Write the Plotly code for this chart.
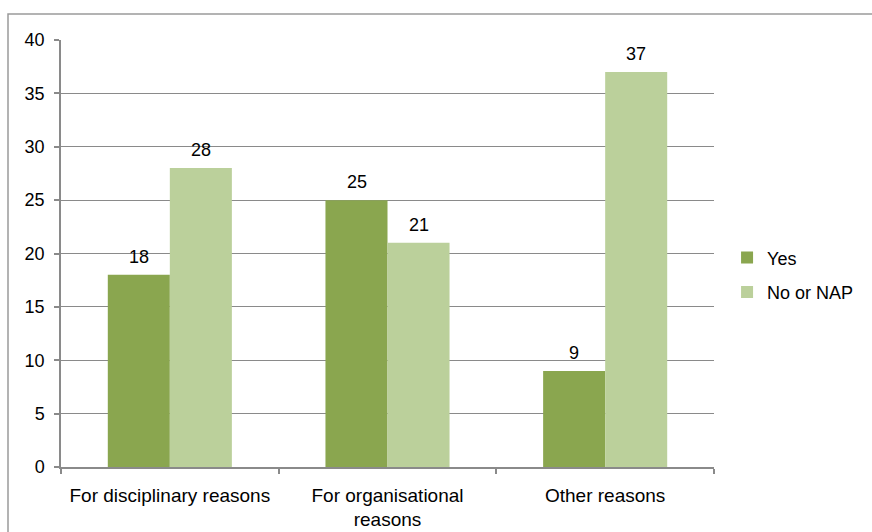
import plotly.graph_objects as go

categories = ["For disciplinary reasons", "For organisational<br>reasons", "Other reasons"]
yes_values = [18, 25, 9]
no_values = [28, 21, 37]
series_names = ["Yes", "No or NAP"]
y_ticks = [0, 5, 10, 15, 20, 25, 30, 35, 40]

DARK = "#8aa64f"
LIGHT = "#bbd09b"
GRID = "#8a8a8a"
FONT = "Liberation Sans, Arial, sans-serif"

fig = go.Figure()
fig.add_trace(go.Bar(x=categories, y=yes_values, name=series_names[0],
                     marker=dict(color=DARK, line=dict(width=0)), legendgroup="a"))
fig.add_trace(go.Bar(x=categories, y=no_values, name=series_names[1],
                     marker=dict(color=LIGHT, line=dict(width=0)), legendgroup="b"))

annotations = []
for cat, v in zip(categories, yes_values):
    annotations.append(dict(x=cat, y=v, text=str(v), showarrow=False, xref="x", yref="y",
                            xshift=-31, yshift=18, yanchor="middle",
                            font=dict(family=FONT, size=18, color="black")))
for cat, v in zip(categories, no_values):
    annotations.append(dict(x=cat, y=v, text=str(v), showarrow=False, xref="x", yref="y",
                            xshift=31, yshift=18, yanchor="middle",
                            font=dict(family=FONT, size=18, color="black")))

fig.update_layout(
    width=872, height=532,
    margin=dict(l=61, r=158, t=40, b=65),
    paper_bgcolor="white", plot_bgcolor="white",
    barmode="group", bargap=0.43, bargroupgap=0,
    font=dict(family=FONT, size=18, color="black"),
    annotations=annotations,
    legend=dict(x=1.02, y=0.45, xanchor="left", yanchor="middle",
                font=dict(family=FONT, size=18, color="black"),
                tracegroupgap=8, traceorder="grouped", bgcolor="rgba(0,0,0,0)"),
    shapes=[dict(type="rect", xref="paper", yref="paper",
                 x0=(8 - 61) / 653, x1=1.6, y0=-0.4, y1=(467 - 14) / 427,
                 line=dict(color="#9a9a9a", width=1.5), fillcolor="rgba(0,0,0,0)", layer="below")],
)
fig.update_xaxes(type="category", categoryorder="array", categoryarray=categories,
                 automargin=False,
                 showline=True, linecolor=GRID, linewidth=1.5,
                 ticks="outside", tickson="boundaries", ticklen=5, tickcolor=GRID, tickwidth=1.5,
                 showgrid=False, ticklabelstandoff=10,
                 tickfont=dict(family=FONT, size=19, color="black"))
fig.update_yaxes(range=[0, 40], tickvals=y_ticks, ticktext=[str(t) for t in y_ticks],
                 automargin=False,
                 showline=True, linecolor=GRID, linewidth=1.5,
                 ticks="outside", ticklen=5, tickcolor=GRID, tickwidth=1.5,
                 showgrid=True, gridcolor=GRID, gridwidth=1.2, zeroline=False,
                 ticklabelstandoff=6,
                 tickfont=dict(family=FONT, size=18, color="black"))

fig.write_html("out.html", config={"displayModeBar": False},
               post_script="document.body.style.margin='0';document.body.style.overflow='hidden';")
